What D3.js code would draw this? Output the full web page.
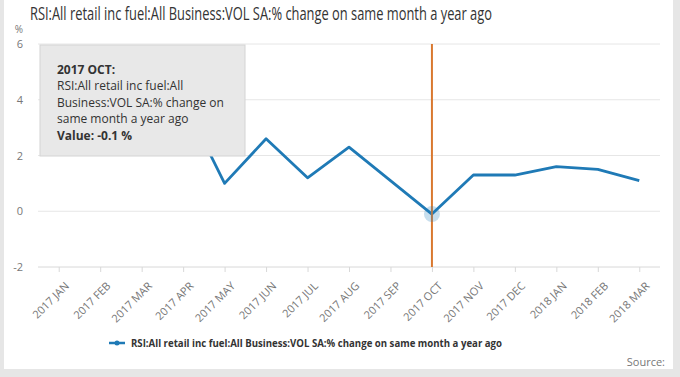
<!DOCTYPE html>
<html>
<head>
<meta charset="utf-8">
<script src="https://cdn.jsdelivr.net/npm/d3@7"></script>
<style>
  body { margin: 0; background: #e6e6e6; }
  svg { display: block; font-family: "Open Sans", sans-serif; }
</style>
</head>
<body>
<div id="chart"></div>
<script>
const seriesName = "RSI:All retail inc fuel:All Business:VOL SA:% change on same month a year ago";
const months = ["2017 JAN", "2017 FEB", "2017 MAR", "2017 APR", "2017 MAY", "2017 JUN", "2017 JUL",
    "2017 AUG", "2017 SEP", "2017 OCT", "2017 NOV", "2017 DEC", "2018 JAN", "2018 FEB", "2018 MAR"];
// Jan-Apr sit behind the tooltip in the reference, so they are estimates
const values = [2.4, 3.7, 2.3, 4.0, 1.0, 2.6, 1.2, 2.3, 1.1, -0.1, 1.3, 1.3, 1.6, 1.5, 1.1];
const yTicks = [-2, 0, 2, 4, 6];
const hoverIndex = 9;

const width = 680, height = 377;

const svg = d3.select('#chart').append('svg')
    .attr('width', width)
    .attr('height', height);

// white panel with grey frame around it
svg.append('rect')
    .attr('x', 4).attr('y', 0)
    .attr('width', 669).attr('height', 369)
    .attr('fill', '#fff');

svg.append('text')
    .attr('x', 30).attr('y', 20)
    .attr('font-size', 18)
    .attr('fill', '#333')
    .attr('textLength', 462)
    .attr('lengthAdjust', 'spacingAndGlyphs')
    .text(seriesName);

const x = d3.scalePoint()
    .domain(months)
    .range([38, 660])
    .padding(0.5);

const y = d3.scaleLinear()
    .domain([-2, 6])
    .range([267, 44]);

// gridlines
svg.append('g')
    .selectAll('line')
    .data(yTicks)
    .join('line')
    .attr('x1', 38).attr('x2', 660)
    .attr('y1', d => y(d)).attr('y2', d => y(d))
    .attr('stroke', d => d === -2 ? '#d8d8d8' : '#e6e6e6')
    .attr('stroke-width', 1);

// y labels
svg.append('g')
    .selectAll('text')
    .data(yTicks)
    .join('text')
    .attr('x', 23)
    .attr('y', d => y(d) + 4)
    .attr('text-anchor', 'end')
    .attr('font-size', 11)
    .attr('fill', '#777')
    .text(d => d);

svg.append('text')
    .attr('x', 23).attr('y', 33)
    .attr('text-anchor', 'end')
    .attr('font-size', 10)
    .attr('fill', '#777')
    .text('%');

// x axis ticks and rotated labels
const xAxis = svg.append('g')
    .attr('transform', `translate(0,${y(-2)})`)
    .call(d3.axisBottom(x).tickSize(5).tickSizeOuter(0));
xAxis.select('.domain').remove();
xAxis.selectAll('.tick line').attr('stroke', '#d8d8d8');
xAxis.selectAll('.tick text')
    .attr('font-family', '"Open Sans", sans-serif')
    .attr('font-size', 11)
    .attr('fill', '#777')
    .attr('text-anchor', 'end')
    .attr('dx', 0).attr('dy', 0)
    .attr('transform', 'translate(5,14) rotate(-45)');

// series line
const line = d3.line()
    .x((d, i) => x(months[i]))
    .y(d => y(d));

svg.append('path')
    .datum(values)
    .attr('fill', 'none')
    .attr('stroke', '#1f7ab6')
    .attr('stroke-width', 2.8)
    .attr('stroke-linejoin', 'round')
    .attr('d', line);

// hover crosshair + marker
svg.append('line')
    .attr('x1', x(months[hoverIndex])).attr('x2', x(months[hoverIndex]))
    .attr('y1', y(6)).attr('y2', y(-2))
    .attr('stroke', '#d9782f')
    .attr('stroke-width', 2);

svg.append('circle')
    .attr('cx', x(months[hoverIndex]))
    .attr('cy', y(values[hoverIndex]))
    .attr('r', 8)
    .attr('fill', '#1f7ab6')
    .attr('fill-opacity', 0.25);

// tooltip
const tip = svg.append('g').attr('transform', 'translate(40,45)');
tip.append('rect')
    .attr('width', 205).attr('height', 111)
    .attr('fill', '#e8e8e8')
    .attr('stroke', '#d4d4d4');

const tipLines = [
    { t: months[hoverIndex] + ':', b: true },
    { t: 'RSI:All retail inc fuel:All', b: false },
    { t: 'Business:VOL SA:% change on', b: false },
    { t: 'same month a year ago', b: false },
    { t: 'Value: ' + values[hoverIndex] + ' %', b: true }
];
tip.selectAll('text')
    .data(tipLines)
    .join('text')
    .attr('x', 17)
    .attr('y', (d, i) => 29 + i * 16.4)
    .attr('font-size', 12)
    .attr('font-weight', d => d.b ? 700 : 400)
    .attr('fill', '#333')
    .text(d => d.t);

// legend
const legend = svg.append('g').attr('transform', 'translate(109,343)');
legend.append('line')
    .attr('x1', 0).attr('x2', 16)
    .attr('stroke', '#1f7ab6').attr('stroke-width', 2.5);
legend.append('circle')
    .attr('cx', 8).attr('r', 2.5)
    .attr('fill', '#1f7ab6');
legend.append('text')
    .attr('x', 22).attr('y', 4)
    .attr('font-size', 11)
    .attr('font-weight', 700)
    .attr('fill', '#333')
    .attr('textLength', 371)
    .attr('lengthAdjust', 'spacingAndGlyphs')
    .text(seriesName);

svg.append('text')
    .attr('x', 665).attr('y', 366)
    .attr('text-anchor', 'end')
    .attr('font-size', 11)
    .attr('fill', '#777')
    .text('Source:');
</script>
</body>
</html>
